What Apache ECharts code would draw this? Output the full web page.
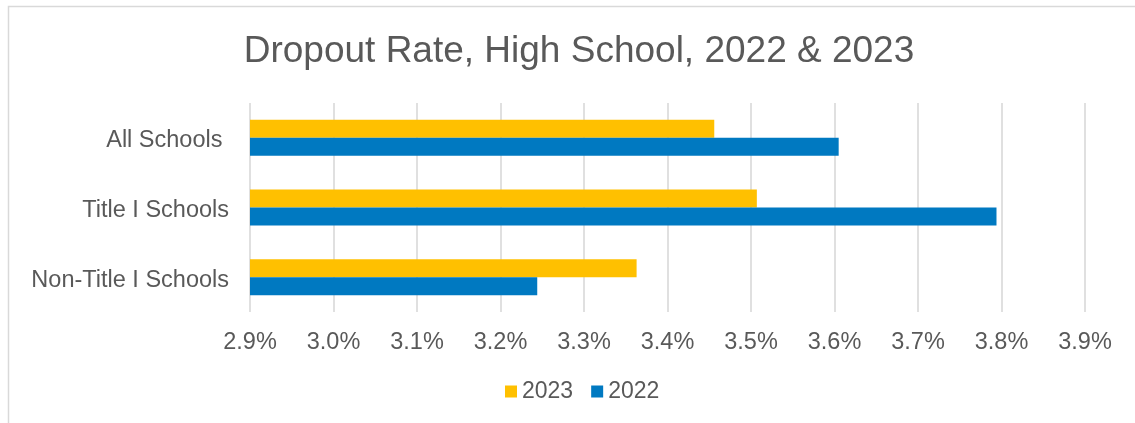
<!DOCTYPE html>
<html>
<head>
<meta charset="utf-8">
<script src="https://cdn.jsdelivr.net/npm/echarts@6/dist/echarts.min.js"></script>
<style>
html,body{margin:0;padding:0;background:#fff;}
#chart{width:1135px;height:423px;}
</style>
</head>
<body>
<div id="chart"></div>
<script>
const categories = ['All Schools ', 'Title I Schools', 'Non-Title I Schools'];
const seriesNames = ['2023', '2022'];
const values2023 = [3.456, 3.507, 3.363];
const values2022 = [3.605, 3.794, 3.244];
const tickMin = 2.9;
const tickMax = 3.9;
const tickStep = 0.1;

const textColor = '#595959';
const font = 'Liberation Sans, Arial, sans-serif';
const chart = echarts.init(document.getElementById('chart'), null, {renderer: 'canvas'});
chart.setOption({
  animation: false,
  backgroundColor: '#ffffff',
  textStyle: {fontFamily: font},
  title: {
    text: 'Dropout Rate, High School, 2022 & 2023',
    left: 574,
    textAlign: 'center',
    top: 28,
    textStyle: {fontSize: 37, fontWeight: 'normal', color: textColor, fontFamily: font}
  },
  legend: {
    data: seriesNames,
    left: 500,
    top: 375,
    itemWidth: 12,
    itemHeight: 12,
    itemGap: 18,
    icon: 'rect',
    textStyle: {fontSize: 23, color: textColor, fontFamily: font}
  },
  grid: {left: 250, right: 50, top: 103, height: 209, containLabel: false},
  xAxis: {
    type: 'value',
    min: tickMin,
    max: tickMax,
    interval: tickStep,
    axisLine: {show: false},
    axisTick: {show: false},
    splitLine: {show: true, lineStyle: {color: '#d6d6d6', width: 1.5}},
    axisLabel: {
      margin: 19,
      fontSize: 23.5,
      color: textColor,
      fontFamily: font,
      formatter: v => v.toFixed(1) + '%'
    }
  },
  yAxis: {
    type: 'category',
    data: categories,
    inverse: true,
    axisLine: {show: false},
    axisTick: {show: false},
    splitLine: {show: false},
    axisLabel: {margin: 21, fontSize: 23.5, color: textColor, fontFamily: font,
      verticalAlign: 'top', lineHeight: 6}
  },
  series: [
    {name: seriesNames[0], type: 'bar', data: values2023, barWidth: 18, barGap: '0%',
     itemStyle: {color: '#FFC000'}},
    {name: seriesNames[1], type: 'bar', data: values2022, barWidth: 18, barGap: '0%',
     itemStyle: {color: '#0079C1'}}
  ],
  graphic: [{
    type: 'rect',
    shape: {x: 8.5, y: 6.5, width: 1200, height: 500},
    style: {fill: 'none', stroke: '#d9d9d9', lineWidth: 1.5},
    silent: true
  }]
});
</script>
</body>
</html>
